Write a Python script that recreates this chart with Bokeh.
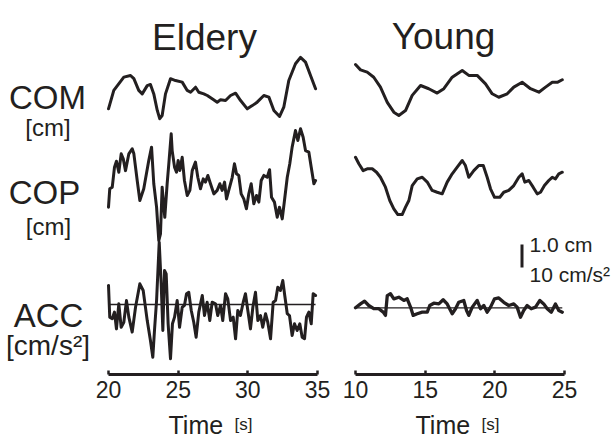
from bokeh.plotting import figure
from bokeh.models import Range1d, LinearAxis, FixedTicker, Label
from bokeh.layouts import row
from bokeh.embed import file_html
from bokeh.resources import INLINE

# ---------------- data (time in s, COM/COP in cm, ACC in cm/s^2) ----------------
eld_com_t = [20.0, 20.38, 21.10, 21.58, 21.82, 22.17, 22.42, 22.78, 23.01, 23.25, 23.50, 23.68, 23.85, 24.09,
             24.45, 24.81, 25.29, 25.65, 25.89, 26.25, 26.48, 26.84, 27.09, 27.44, 27.80, 28.04, 28.40, 28.76,
             29.12, 29.48, 29.96, 30.32, 30.67, 31.15, 31.51, 31.87, 32.28, 32.58, 32.94, 33.42, 33.78, 34.14,
             34.50, 34.86]
eld_com_v = [-0.71, 0.09, 0.67, 0.74, 0.60, 0.09, -0.06, 0.30, 0.35, -0.06, -0.78, -1.14, -1.00, -0.06,
             0.60, 0.52, 0.45, 0.09, 0.01, 0.23, 0.01, -0.06, -0.13, -0.27, -0.42, -0.32, -0.35, -0.13,
             -0.03, -0.35, -0.71, -0.57, -0.42, -0.13, -0.20, -0.78, -1.04, -0.64, 0.52, 1.25, 1.53, 1.32,
             0.74, 0.16]

eld_cop_t = [20.0, 20.09, 20.27, 20.43, 20.57, 20.74, 20.91, 21.06, 21.22, 21.46,
             21.70, 21.82, 22.06, 22.25, 22.53, 22.89, 23.09, 23.25, 23.45, 23.61,
             23.73, 23.85, 24.04, 24.21, 24.33, 24.50, 24.57, 24.74, 24.88, 25.00,
             25.12, 25.29, 25.45, 25.65, 25.84, 26.01, 26.24, 26.41, 26.60, 26.80,
             26.96, 27.13, 27.32, 27.56, 27.80, 27.99, 28.16, 28.33, 28.47, 28.63,
             28.88, 29.04, 29.19, 29.35, 29.52, 29.71, 29.90, 30.07, 30.24, 30.43,
             30.62, 30.79, 30.96, 31.15, 31.39, 31.56, 31.70, 31.91, 32.11, 32.27,
             32.47, 32.63, 32.83, 33.01, 33.18, 33.42, 33.59, 33.78, 33.97, 34.14,
             34.38, 34.55, 34.74, 34.86]
eld_cop_v = [-1.16, -0.36, -0.29, 0.58, 0.84, 0.36, 1.16, 0.94, 0.43, 1.16,
             1.38, 1.16, 0.0, -0.87, -0.36, 0.87, 1.45, -0.14, -1.16, -2.61,
             -2.32, -0.29, -1.60, -0.14, 0.73, 2.03, 1.30, 0.58, 0.36, 0.87,
             0.43, 1.01, 0.0, -0.65, -0.43, 0.43, 0.80, 0.14, -0.36, 0.07,
             -0.07, 0.22, -0.14, -0.58, -0.43, -0.14, -0.43, -0.07, -0.80, -0.43,
             0.14, 0.73, 0.29, 0.22, -0.58, -0.80, -1.23, -0.58, -0.14, -1.01,
             -0.65, -0.94, 0.0, 0.22, 0.14, 0.47, -0.73, -0.94, -1.60, -1.16,
             -1.67, -0.87, 0.14, 0.73, 1.45, 2.17, 1.74, 2.25, 1.88, 1.30,
             1.23, 0.58, -0.14, 0.0]

eld_acc_t = [20.0, 20.09, 20.27, 20.43, 20.57, 20.74, 20.91, 21.10, 21.29, 21.46,
             21.70, 21.94, 22.25, 22.49, 22.78, 23.01, 23.18, 23.30, 23.45, 23.57,
             23.64, 23.78, 23.90, 24.02, 24.14, 24.28, 24.45, 24.59, 24.74, 24.93,
             25.10, 25.29, 25.45, 25.60, 25.76, 25.94, 26.12, 26.29, 26.48, 26.73,
             26.89, 27.08, 27.27, 27.44, 27.68, 27.84, 28.04, 28.20, 28.40, 28.56,
             28.76, 28.95, 29.12, 29.28, 29.47, 29.67, 29.83, 30.00, 30.19, 30.36,
             30.55, 30.72, 30.91, 31.07, 31.27, 31.43, 31.63, 31.82, 31.99, 32.15,
             32.34, 32.51, 32.65, 32.83, 32.99, 33.18, 33.35, 33.54, 33.73, 33.90,
             34.07, 34.21, 34.38, 34.55, 34.69, 34.86]
eld_acc_v = [8.3, -5.5, -6.2, -3.3, -10.6, 0.3, -9.9, -7.7, 1.7, -5.5,
             -12.0, -1.2, 9.0, 6.1, -7.0, -15.7, -22.9, -11.3, 1.7, 17.7,
             27.1, 9.0, -11.3, 14.8, 13.3, -8.4, -23.6, -8.4, -5.5, 1.7,
             -9.9, -1.2, -0.4, 4.7, 5.3, -2.6, -7.7, -14.2, -3.3, 3.9,
             -4.8, 1.0, -7.0, 1.0, 0.3, -4.8, -0.4, -7.0, 4.7, 2.5,
             -7.0, -5.5, -14.9, -2.6, -4.8, 1.0, 4.7, -2.6, -10.6, -1.2,
             5.3, -7.0, -4.8, -9.9, -4.0, -7.7, -14.9, 1.0, 1.7, 7.5,
             6.1, 10.4, 3.9, -4.0, -4.8, -13.5, -8.4, -11.3, -8.4, -14.2,
             -14.9, -5.5, -3.3, -8.4, 4.7, 3.9]

yng_com_t = [10.0, 10.36, 10.84, 11.31, 11.79, 12.28, 12.75, 13.11, 13.59, 14.07, 14.67, 15.26, 15.86,
             16.34, 16.94, 17.66, 18.13, 18.73, 19.33, 19.81, 20.28, 20.89, 21.36, 21.96, 22.56, 23.16,
             23.64, 24.12, 24.48, 24.84]
yng_com_v = [1.04, 0.81, 0.71, 0.49, 0.06, -0.60, -1.03, -1.17, -0.96, -0.30, 0.13, -0.01, -0.20,
             -0.01, 0.49, 0.78, 0.57, 0.57, 0.20, -0.23, -0.38, -0.23, 0.06, 0.27, -0.01, -0.16,
             0.06, 0.27, 0.27, 0.38]

yng_cop_t = [10.0, 10.24, 10.55, 10.84, 11.20, 11.51, 11.79, 12.15, 12.46, 12.75,
             13.04, 13.35, 13.59, 13.83, 14.07, 14.43, 14.79, 15.15, 15.50, 15.86,
             16.22, 16.58, 16.94, 17.30, 17.66, 17.89, 18.13, 18.49, 18.85, 19.17,
             19.45, 19.69, 19.98, 20.36, 20.64, 21.00, 21.36, 21.72, 21.96, 22.15,
             22.44, 22.75, 23.04, 23.28, 23.56, 23.87, 24.12, 24.35, 24.59, 24.84]
yng_cop_v = [1.01, 0.73, 0.43, 0.51, 0.51, 0.36, 0.14, -0.29, -0.87, -1.23,
             -1.48, -1.48, -1.16, -0.87, -0.22, 0.07, 0.14, -0.07, -0.43, -0.51,
             -0.58, -0.07, 0.29, 0.58, 0.87, 0.65, 0.14, 0.43, 0.65, 0.65,
             0.14, -0.36, -0.73, -0.73, -0.51, -0.43, -0.22, 0.14, 0.29, -0.07,
             0.0, -0.29, -0.58, -0.51, -0.22, 0.0, 0.14, 0.07, 0.29, 0.36]

yng_acc_t = [10.0, 10.36, 10.65, 10.95, 11.31, 11.67, 11.99, 12.15, 12.28, 12.51,
             12.75, 13.11, 13.47, 13.71, 13.95, 14.14, 14.43, 14.79, 15.15, 15.33,
             15.62, 15.98, 16.29, 16.58, 16.94, 17.18, 17.41, 17.77, 17.97, 18.13,
             18.38, 18.73, 18.97, 19.21, 19.45, 19.69, 19.98, 20.28, 20.64, 21.00,
             21.36, 21.60, 21.84, 22.07, 22.32, 22.61, 22.92, 23.23, 23.51, 23.76,
             24.05, 24.35, 24.59, 24.84]
yng_acc_v = [0.0, 1.7, 2.9, 1.0, -0.4, -0.4, -1.9, -3.3, 5.3, 6.1,
             3.9, 4.6, 3.2, 3.9, 0.3, -3.3, -2.6, -1.9, -1.9, 1.0,
             2.0, 1.7, 3.5, 1.7, -2.6, -0.4, 2.4, 3.2, -1.2, -3.3,
             0.3, 3.2, -0.4, 1.0, -1.9, 0.3, 3.9, 4.3, 2.4, 1.0,
             1.7, 0.3, -4.1, -1.2, 1.0, -0.4, 0.3, 3.2, 1.7, -0.4,
             -1.9, 1.7, -1.2, -1.9]

eld_ticks = [20, 25, 30, 35]
yng_ticks = [10, 15, 20, 25]

# ---------------- layout / style ----------------
INK = "#231f20"
FONT = "Liberation Sans"
PX_PER_S = 209.0 / 15.0
PX_PER_UNIT = 23.0           # 1 cm  == 10 cm/s^2  == 23 px
ACC_SCALE = 10.0
H = 439
AXIS_PX = 374                # axis line position from the top

def yat(px_from_top):
    return (AXIS_PX - px_from_top) / PX_PER_UNIT

def make_fig(width, t_left_px, t0, ticks):
    x0 = t0 - t_left_px / PX_PER_S
    x1 = x0 + width / PX_PER_S
    p = figure(width=width, height=H, x_range=Range1d(x0, x1),
               y_range=Range1d(yat(H), yat(0)),
               output_backend="svg", toolbar_location=None,
               x_axis_location=None, y_axis_location=None,
               min_border_left=0, min_border_right=0, min_border_top=0, min_border_bottom=0)
    p.grid.visible = False
    p.outline_line_color = None
    p.background_fill_color = "white"
    p.border_fill_color = "white"
    ax = LinearAxis(bounds=(ticks[0], ticks[-1]), ticker=FixedTicker(ticks=ticks), fixed_location=0)
    ax.axis_line_width = 3
    ax.axis_line_color = INK
    ax.major_tick_in = 4
    ax.major_tick_out = 0
    ax.major_tick_line_width = 2.5
    ax.major_tick_line_color = INK
    ax.minor_tick_line_color = None
    ax.major_label_text_font = FONT
    ax.major_label_text_font_size = "23px"
    ax.major_label_text_color = INK
    ax.major_label_standoff = 6
    p.add_layout(ax, "below")
    return p, x0

def lbl(p, x, y, text, size, align="center"):
    p.add_layout(Label(x=x, y=y, text=text, text_font=FONT, text_font_size=size,
                       text_color=INK, text_align=align, text_baseline="alphabetic"))

def trace(p, t, v, offset, scale=1.0, width=3):
    p.line(list(t), [offset + vi / scale for vi in v], line_color=INK,
           line_width=width, line_join="round", line_cap="round")

# Left panel (Eldery)
left, lx0 = make_fig(336, 108, 20, eld_ticks)
trace(left, eld_com_t, eld_com_v, yat(92))
trace(left, eld_cop_t, eld_cop_v, yat(180))
left.line([eld_acc_t[0], eld_acc_t[-1]], [yat(304), yat(304)], line_color=INK, line_width=1.3)
trace(left, eld_acc_t, eld_acc_v, yat(304), ACC_SCALE)

def lx(px):
    return lx0 + px / PX_PER_S

lbl(left, lx(204), yat(36.5), "Eldery", "37px")
lbl(left, lx(47), yat(97), "COM", "33px")
lbl(left, lx(47.5), yat(126.5), "[cm]", "24px")
lbl(left, lx(44), yat(192), "COP", "33px")
lbl(left, lx(48), yat(226), "[cm]", "24px")
lbl(left, lx(48), yat(315), "ACC", "33px")
lbl(left, lx(47.5), yat(345), "[cm/s²]", "28px")
lbl(left, lx(168), yat(424), "Time", "25px", "left")
lbl(left, lx(234), yat(424), "[s]", "17px", "left")

# Right panel (Young)
right, rx0 = make_fig(280, 19, 10, yng_ticks)
trace(right, yng_com_t, yng_com_v, yat(88))
trace(right, yng_cop_t, yng_cop_v, yat(180))
right.line([yng_acc_t[0], yng_acc_t[-1]], [yat(307.3), yat(307.3)], line_color=INK, line_width=1.3)
trace(right, yng_acc_t, yng_acc_v, yat(307.3), ACC_SCALE, 3.3)

def rx(px):
    return rx0 + (px - 336) / PX_PER_S

# scale bar: 1.0 cm / 10 cm/s^2
bar_x = rx(521.5)
bar_y0 = yat(267)
right.line([bar_x, bar_x], [bar_y0, bar_y0 + 1.0], line_color=INK, line_width=3)

lbl(right, rx(443), yat(35.5), "Young", "37px")
lbl(right, rx(529), yat(244), "1.0 cm", "21px", "left")
lbl(right, rx(529), yat(274), "10 cm/s²", "21px", "left")
lbl(right, rx(415), yat(424), "Time", "25px", "left")
lbl(right, rx(481), yat(424), "[s]", "17px", "left")

layout = row(left, right)
open("out.html", "w").write(file_html(layout, INLINE))
